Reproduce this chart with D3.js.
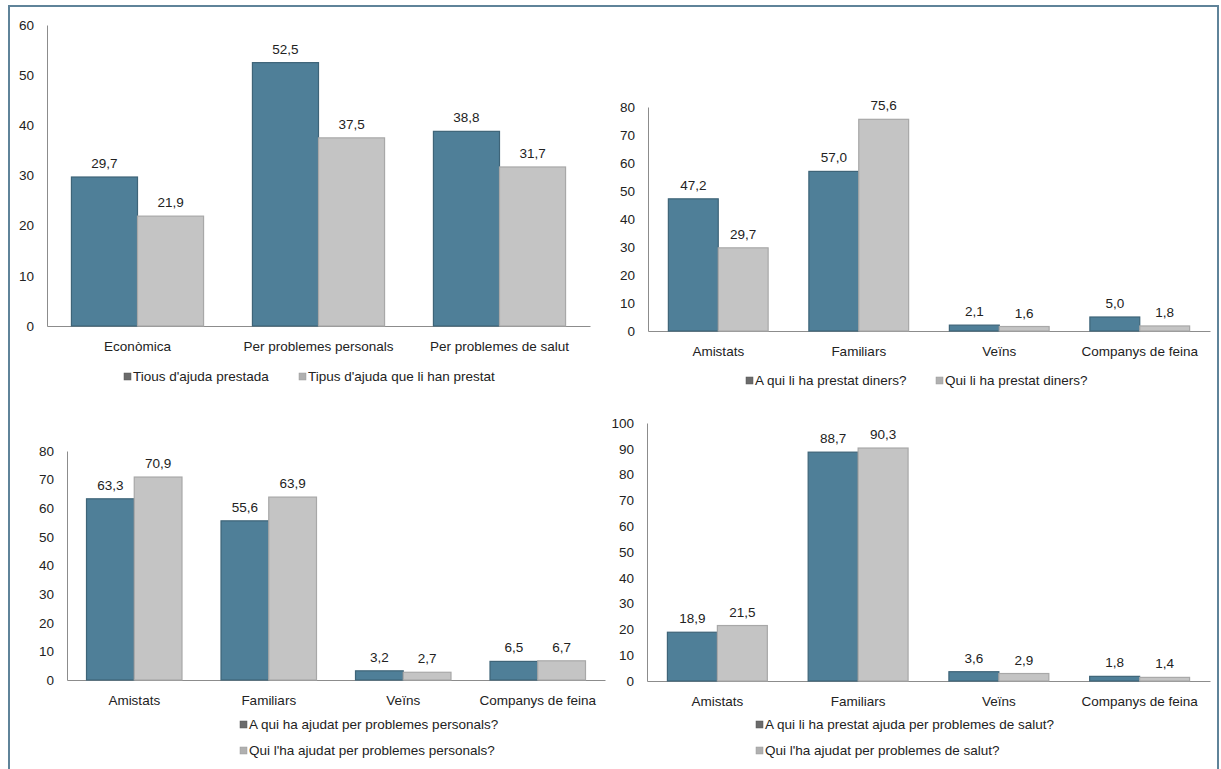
<!DOCTYPE html>
<html><head><meta charset="utf-8">
<script src="https://cdn.jsdelivr.net/npm/d3@7"></script>
<style>body{margin:0;background:#fff;}svg{display:block;font-family:"Liberation Sans",Arial,sans-serif;}</style>
</head><body><svg id="c" width="1221" height="769"></svg>
<script>
// ---- data ----
const cats1 = ["Econòmica", "Per problemes personals", "Per problemes de salut"];
const series1 = ["Tious d'ajuda prestada", "Tipus d'ajuda que li han prestat"];
const vals1a = [29.7, 52.5, 38.8];
const vals1b = [21.9, 37.5, 31.7];

const catsP = ["Amistats", "Familiars", "Veïns", "Companys de feina"];

const series2 = ["A qui li ha prestat diners?", "Qui li ha prestat diners?"];
const vals2a = [47.2, 57.0, 2.1, 5.0];
const vals2b = [29.7, 75.6, 1.6, 1.8];

const series3 = ["A qui ha ajudat per problemes personals?", "Qui l'ha ajudat per problemes personals?"];
const vals3a = [63.3, 55.6, 3.2, 6.5];
const vals3b = [70.9, 63.9, 2.7, 6.7];

const series4 = ["A qui li ha prestat ajuda per problemes de salut?", "Qui l'ha ajudat per problemes de salut?"];
const vals4a = [18.9, 88.7, 3.6, 1.8];
const vals4b = [21.5, 90.3, 2.9, 1.4];

const ticks1 = [0,10,20,30,40,50,60];
const ticks2 = [0,10,20,30,40,50,60,70,80];
const ticks3 = [0,10,20,30,40,50,60,70,80];
const ticks4 = [0,10,20,30,40,50,60,70,80,90,100];

// ---- layout ----
const svg = d3.select("#c");
svg.append("path").attr("d","M9,770 V6 H1218 V770").attr("fill","none").attr("stroke","#5f8399").attr("stroke-width",2);

const fillA = "#4f7f98", strokeA = "#3e6478";
const fillB = "#c4c4c4", strokeB = "#a8a8a8";
const fmt = v => d3.format(".1f")(v).replace(".", ",");
const FS = 13.5;

function chart(cfg){
  const {cats, series, a, b, ticks, x0, x1, yTop, yBot, frac, legend} = cfg;
  const g = svg.append("g");
  const y = d3.scaleLinear().domain([0, d3.max(ticks)]).range([yBot, yTop]);
  const x = d3.scaleBand().domain(cats).range([x0, x1]).padding(0);
  const gw = x.step()*frac;
  const xs = d3.scaleBand().domain([0,1]).range([0, gw]);
  // y axis
  const ya = g.append("g").attr("transform",`translate(${x0},0)`)
    .call(d3.axisLeft(y).tickValues(ticks).tickSize(0).tickPadding(13));
  ya.select(".domain").attr("stroke","#8c8c8c");
  ya.selectAll("text").attr("font-size",FS).attr("fill","#222").attr("font-family","Liberation Sans, Arial, sans-serif");
  // x axis
  const xa = g.append("g").attr("transform",`translate(0,${yBot})`)
    .call(d3.axisBottom(x).tickSize(0).tickPadding(15));
  xa.select(".domain").attr("stroke","#8c8c8c");
  xa.selectAll("text").attr("font-size",FS).attr("fill","#222").attr("font-family","Liberation Sans, Arial, sans-serif");
  const data = cats.map((c,i)=>({c, vals:[a[i], b[i]]}));
  const grp = g.selectAll(".grp").data(data).join("g")
    .attr("transform", d => `translate(${x(d.c) + (x.step()-gw)/2},0)`);
  grp.selectAll("rect").data(d=>d.vals).join("rect")
    .attr("x",(v,i)=>xs(i)).attr("width",xs.bandwidth())
    .attr("y",v=>y(v)).attr("height",v=>yBot-y(v))
    .attr("fill",(v,i)=>i?fillB:fillA).attr("stroke",(v,i)=>i?strokeB:strokeA).attr("stroke-width",1.2);
  grp.selectAll("text").data(d=>d.vals).join("text")
    .attr("x",(v,i)=>xs(i)+xs.bandwidth()/2).attr("y",v=>y(v)-9)
    .attr("text-anchor","middle").attr("font-size",FS).attr("fill","#222").text(fmt);
  // legend
  legend.forEach((p,i)=>{
    g.append("rect").attr("x",p[0]).attr("y",p[1]-8).attr("width",7).attr("height",7)
      .attr("fill",i?"#b0b0b0":"#6b6b6b").attr("stroke",i?"#9a9a9a":"#555").attr("stroke-width",0.5);
    g.append("text").attr("x",p[0]+9).attr("y",p[1]).attr("font-size",FS).attr("fill","#222").text(series[i]);
  });
}

chart({cats:cats1, series:series1, a:vals1a, b:vals1b, ticks:ticks1,
  x0:47, x1:590, yTop:25, yBot:326, frac:0.73, legend:[[124,381],[299,381]]});
chart({cats:catsP, series:series2, a:vals2a, b:vals2b, ticks:ticks2,
  x0:648, x1:1210, yTop:107, yBot:331, frac:0.71, legend:[[746,385],[936,385]]});
chart({cats:catsP, series:series3, a:vals3a, b:vals3b, ticks:ticks3,
  x0:67, x1:605, yTop:451, yBot:680, frac:0.71, legend:[[240,729],[240,755]]});
chart({cats:catsP, series:series4, a:vals4a, b:vals4b, ticks:ticks4,
  x0:647, x1:1210, yTop:423, yBot:681, frac:0.71, legend:[[756,729],[756,755]]});
</script></body></html>
